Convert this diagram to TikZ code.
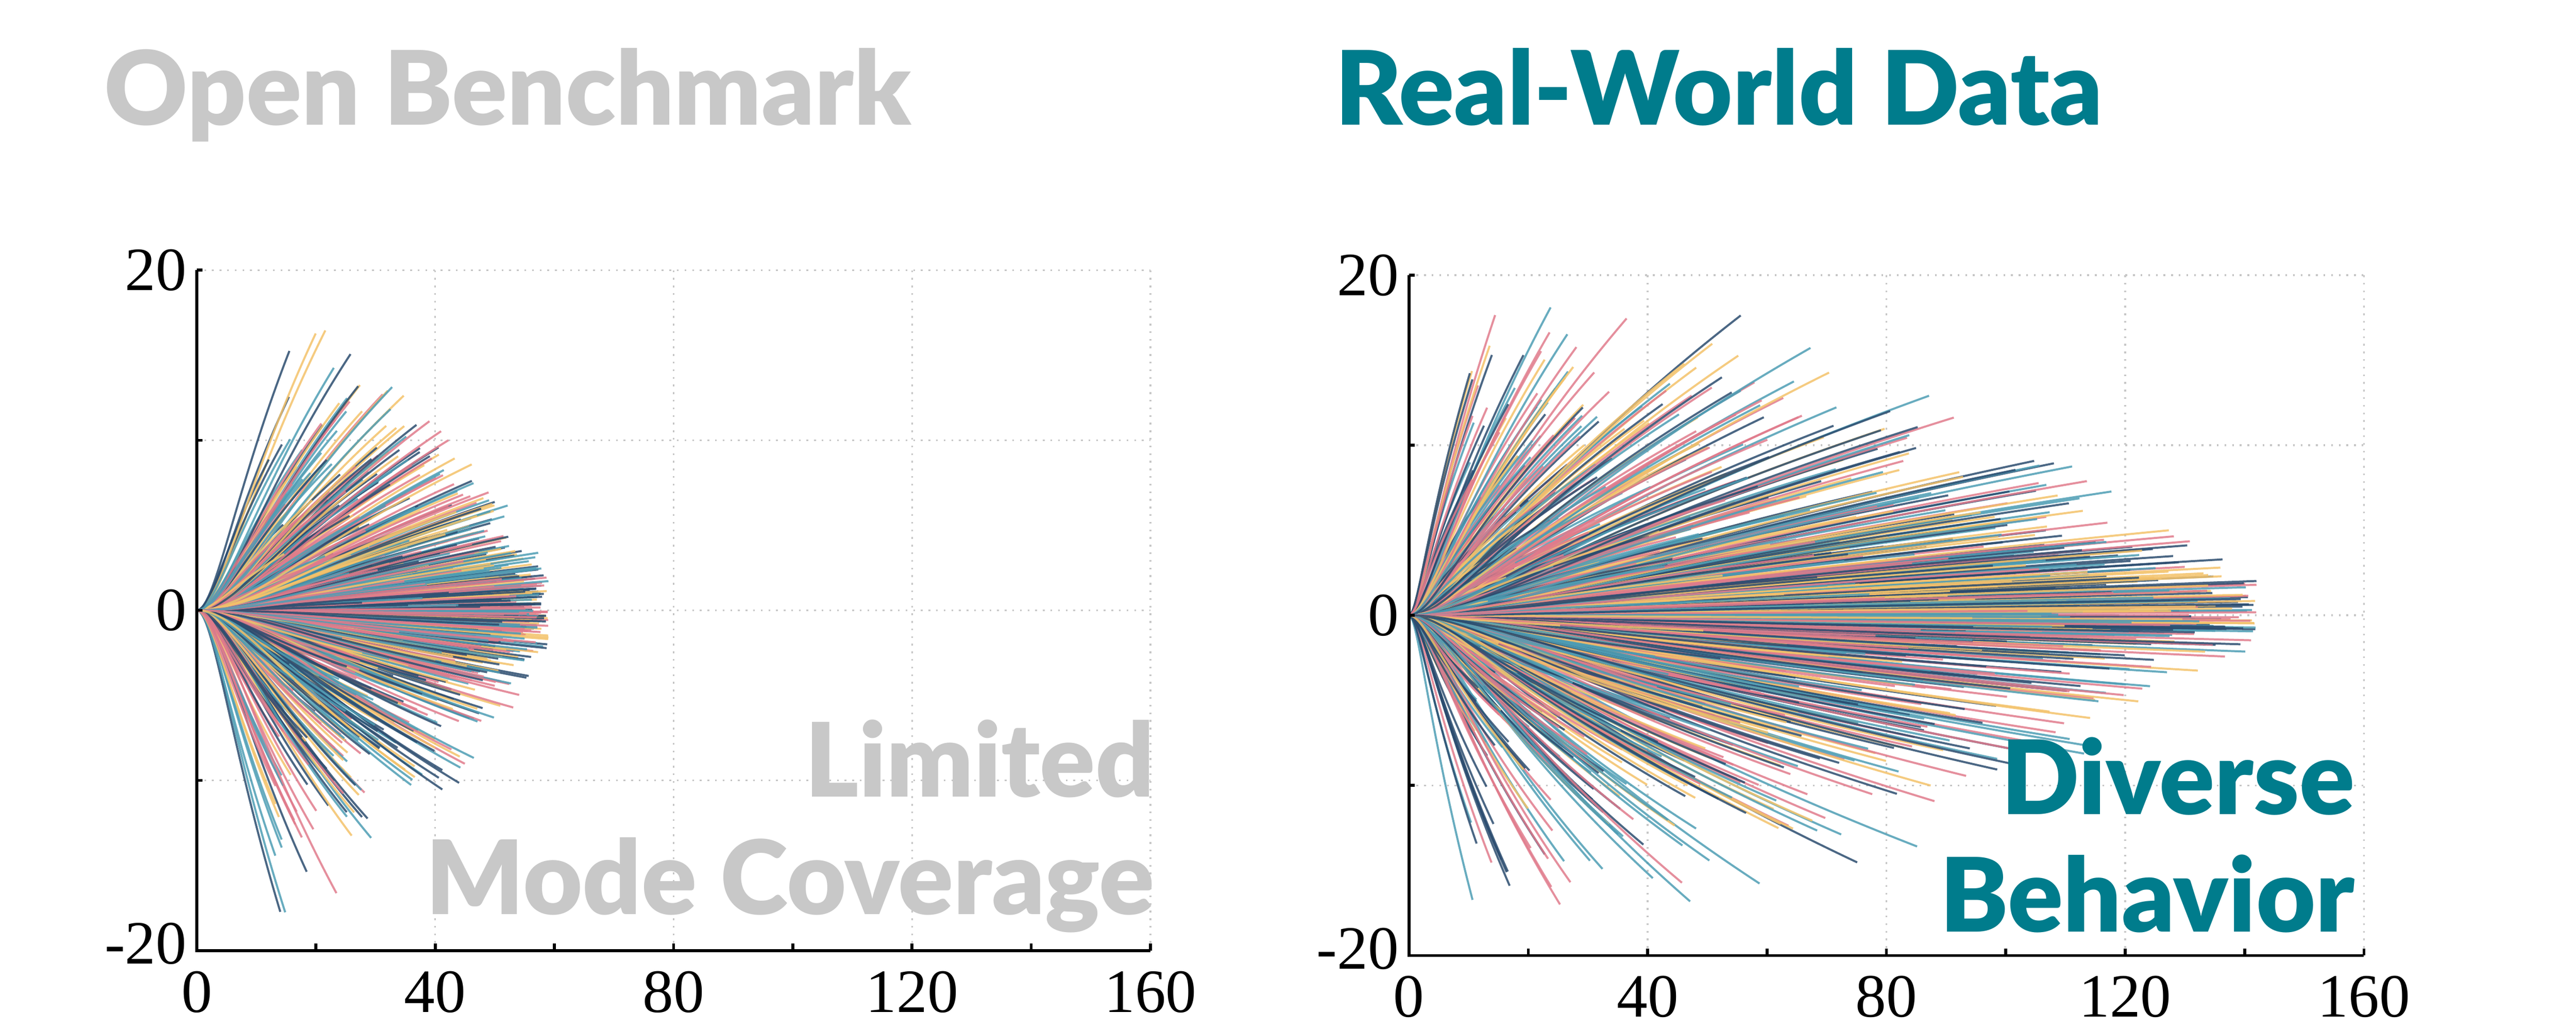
\documentclass[tikz,border=0pt]{standalone}
\usepackage{fontspec}
\setmainfont{Liberation Serif}
\newfontfamily\titlefont{Lato Black}
\usetikzlibrary{positioning}
\definecolor{colA}{HTML}{4E9DB4}
\definecolor{colB}{HTML}{2B4C6F}
\definecolor{colC}{HTML}{E07B8C}
\definecolor{colD}{HTML}{F3C26A}
\definecolor{teal}{HTML}{007C8C}
\definecolor{greytext}{HTML}{C8C8C8}
\tikzset{
  traj/.style={line width=0.35pt, opacity=0.85},
  gridline/.style={densely dotted, gray!45, line width=0.3pt},
  axisline/.style={line width=0.5pt},
  ticklabel/.style={font=\fontsize{10.5}{11}\selectfont, inner sep=1pt},
  title/.style={font=\titlefont\fontsize{17.5}{20}\selectfont, inner sep=0pt, anchor=base west},
  remark/.style={font=\titlefont\fontsize{17.5}{20}\selectfont, inner sep=0pt, align=right, anchor=south east},
}
\begin{document}
\begin{tikzpicture}[x=0.01cm, y=0.01cm]
    \useasboundingbox (0,0) rectangle (1545,617);

    % titles
    \node[title, text=greytext] (tl) at (62,542) {Open Benchmark};
    \node[title, text=teal] (tr) at (800,542) {Real-World Data};

    % left panel
    \begin{scope}[shift={(118,251)}, xscale=3.575, yscale=10.2]
        \foreach \gx in {40,80,120,160} \draw[gridline] (\gx,-20) -- (\gx,20);
        \foreach \gy in {-10,0,10,20} \draw[gridline] (0,\gy) -- (160,\gy);
        \pgfmathsetseed{17}
        \foreach \i in {1,...,900}{
            \pgfmathsetmacro{\L}{12+47*rnd^0.8}
            \pgfmathsetmacro{\ym}{20-0.005*\L*\L}
            \pgfmathsetmacro{\Y}{\ym*(rnd+rnd-1)}
            \pgfmathrandominteger{\c}{1}{4}
            \ifcase\c\or\def\cc{colA}\or\def\cc{colB}\or\def\cc{colC}\or\def\cc{colD}\fi
            \draw[traj, \cc] (0,0) .. controls (0.2*\L,0) and (0.4*\L,0.45*\Y) .. (\L,\Y);
        }
        \draw[axisline] (0,20) -- (0,-20) -- (160,-20);
        \foreach \ty in {-20,-10,0,10,20} \draw[axisline] (0,\ty) -- (1,\ty);
        \foreach \tx in {0,20,...,160} \draw[axisline] (\tx,-20) -- (\tx,-19.6);
        \node[ticklabel, left] (ly20) at (-0.5,20) {20};
        \node[ticklabel, left] (ly0) at (-0.5,0) {0};
        \node[ticklabel, left] (lym20) at (-0.5,-19.6) {-20};
        \foreach \tx in {0,40,80,120,160}
            \node[ticklabel, below] (lx\tx) at (\tx,-20.8) {\tx};
    \end{scope}
    \node[remark, text=greytext] (rl) at (693,57) {Limited\\Mode Coverage};

    % right panel
    \begin{scope}[shift={(845,248)}, xscale=3.58, yscale=10.2]
        \foreach \gx in {40,80,120,160} \draw[gridline] (\gx,-20) -- (\gx,20);
        \foreach \gy in {-10,0,10,20} \draw[gridline] (0,\gy) -- (160,\gy);
        \pgfmathsetseed{29}
        \foreach \i in {1,...,1100}{
            \pgfmathsetmacro{\L}{10+132*rnd^1.2}
            \pgfmathsetmacro{\ym}{21*(1-(\L/150)^2)}
            \pgfmathsetmacro{\Y}{\ym*(rnd+rnd-1)}
            \pgfmathrandominteger{\c}{1}{4}
            \ifcase\c\or\def\cc{colA}\or\def\cc{colB}\or\def\cc{colC}\or\def\cc{colD}\fi
            \draw[traj, \cc] (0,0) .. controls (0.15*\L,0) and (0.3*\L,0.4*\Y) .. (\L,\Y);
        }
        \draw[axisline] (0,20) -- (0,-20) -- (160,-20);
        \foreach \ty in {-20,-10,0,10,20} \draw[axisline] (0,\ty) -- (1,\ty);
        \foreach \tx in {0,20,...,160} \draw[axisline] (\tx,-20) -- (\tx,-19.6);
        \node[ticklabel, left] (ry20) at (-0.5,20) {20};
        \node[ticklabel, left] (ry0) at (-0.5,0) {0};
        \node[ticklabel, left] (rym20) at (-0.5,-19.6) {-20};
        \foreach \tx in {0,40,80,120,160}
            \node[ticklabel, below] (rx\tx) at (\tx,-20.8) {\tx};
    \end{scope}
    \node[remark, text=teal] (rr) at (1413,57) {Diverse\\Behavior};
\end{tikzpicture}
\end{document}
